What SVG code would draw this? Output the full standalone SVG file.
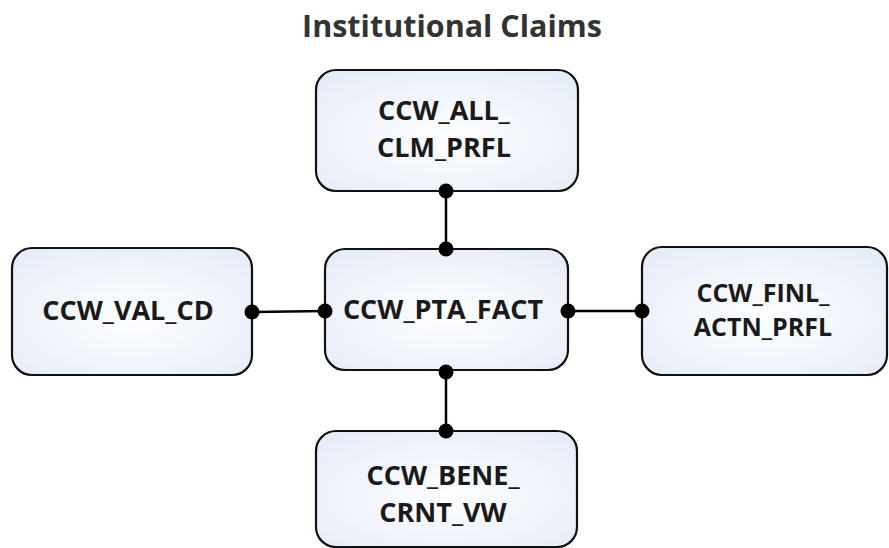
<svg xmlns="http://www.w3.org/2000/svg" width="889" height="548" viewBox="0 0 889 548">
  <defs>
    <radialGradient id="boxFill" cx="50%" cy="55%" r="65%">
      <stop offset="0" stop-color="#fdfeff"/>
      <stop offset="1" stop-color="#e7edf8"/>
    </radialGradient>
    <style>
      .box { fill: url(#boxFill); stroke: #111; stroke-width: 2.2; }
      .lbl { font-family: "Open Sans", "Liberation Sans", sans-serif; font-weight: bold; font-size: 27px; fill: #1a1a1a; text-anchor: middle; }
      .sm { font-size: 25px; }
      .title { font-family: "Open Sans", "Liberation Sans", sans-serif; font-weight: bold; font-size: 30.5px; fill: #333; text-anchor: middle; }
      .conn { stroke: #000; stroke-width: 2.5; fill: none; }
      .dot { fill: #000; }
    </style>
  </defs>
  <rect width="889" height="548" fill="#fff"/>
  <text class="title" x="452" y="37">Institutional Claims</text>

  <g id="node-all-clm-prfl">
    <rect class="box" x="316" y="70" width="262" height="121" rx="20" ry="20"/>
    <text class="lbl" x="444" y="120">CCW_ALL_</text>
    <text class="lbl" x="444" y="157">CLM_PRFL</text>
  </g>
  <g id="node-val-cd">
    <rect class="box" x="12" y="248" width="240" height="127" rx="20" ry="20"/>
    <text class="lbl" x="128" y="320">CCW_VAL_CD</text>
  </g>
  <g id="node-pta-fact">
    <rect class="box" x="325" y="249" width="243" height="121" rx="20" ry="20"/>
    <text class="lbl" x="443" y="319">CCW_PTA_FACT</text>
  </g>
  <g id="node-finl-actn-prfl">
    <rect class="box" x="642" y="247" width="245" height="128" rx="20" ry="20"/>
    <text class="lbl sm" x="763" y="302">CCW_FINL_</text>
    <text class="lbl sm" x="763" y="336">ACTN_PRFL</text>
  </g>
  <g id="node-bene-crnt-vw">
    <rect class="box" x="316" y="431" width="261" height="116" rx="20" ry="20"/>
    <text class="lbl" x="443" y="485">CCW_BENE_</text>
    <text class="lbl" x="443" y="522">CRNT_VW</text>
  </g>

  <g id="connectors">
    <line class="conn" x1="446" y1="191" x2="446" y2="249"/>
    <circle class="dot" cx="446" cy="191" r="7.5"/>
    <circle class="dot" cx="446" cy="249" r="7.5"/>
    <line class="conn" x1="446" y1="370" x2="446" y2="431"/>
    <circle class="dot" cx="446" cy="372" r="7.5"/>
    <circle class="dot" cx="446" cy="431" r="7.5"/>
    <line class="conn" x1="252" y1="312" x2="325" y2="311"/>
    <circle class="dot" cx="252" cy="312" r="7.5"/>
    <circle class="dot" cx="325" cy="311" r="7.5"/>
    <line class="conn" x1="568" y1="311" x2="642" y2="311"/>
    <circle class="dot" cx="568" cy="311" r="7.5"/>
    <circle class="dot" cx="642" cy="311" r="7.5"/>
  </g>
</svg>
